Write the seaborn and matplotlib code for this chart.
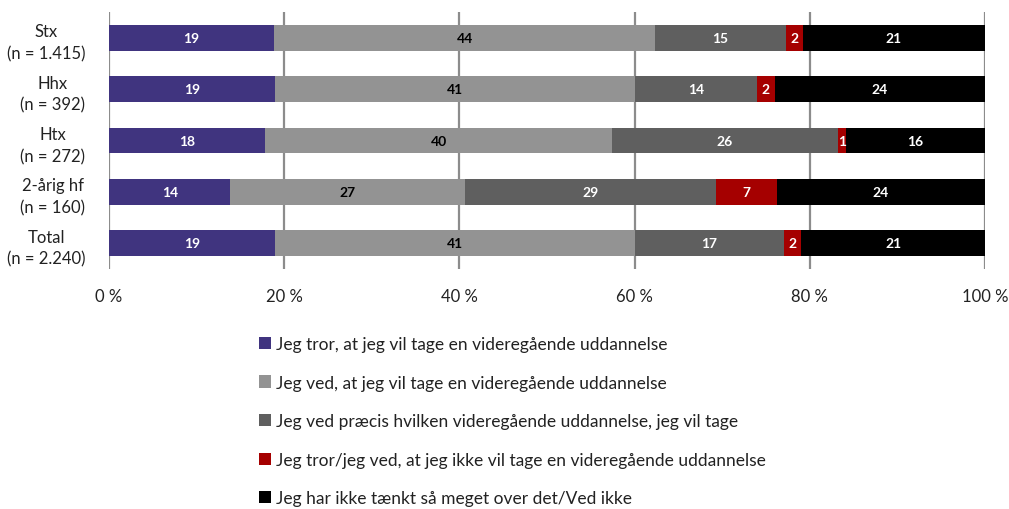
import matplotlib
matplotlib.use("Agg")
import matplotlib.pyplot as plt
import seaborn as sns
import pandas as pd
import numpy as np
from matplotlib.patches import Patch

categories = ["Stx\n(n = 1.415)", "Hhx\n(n = 392)", "Htx\n(n = 272)", "2-årig hf\n(n = 160)", "Total\n(n = 2.240)"]
series = [
    "Jeg tror, at jeg vil tage en videregående uddannelse",
    "Jeg ved, at jeg vil tage en videregående uddannelse",
    "Jeg ved præcis hvilken videregående uddannelse, jeg vil tage",
    "Jeg tror/jeg ved, at jeg ikke vil tage en videregående uddannelse",
    "Jeg har ikke tænkt så meget over det/Ved ikke",
]
s1 = [19, 19, 18, 14, 19]
s2 = [44, 41, 40, 27, 41]
s3 = [15, 14, 26, 29, 17]
s4 = [2, 2, 1, 7, 2]
s5 = [21, 24, 16, 24, 21]
colors = ["#40347f", "#939393", "#5f5f5f", "#a50000", "#000000"]
text_colors = ["white", "black", "white", "white", "white"]
xticks = [0, 20, 40, 60, 80, 100]
xtick_labels = ["0 %", "20 %", "40 %", "60 %", "80 %", "100 %"]

sns.set_theme(style="white")
plt.rcParams["font.family"] = ["Lato", "DejaVu Sans"]

vals = np.array([s1, s2, s3, s4, s5], dtype=float)
shares = vals / vals.sum(axis=0) * 100
cum = np.cumsum(shares, axis=0)

fig = plt.figure(figsize=(10.09, 5.10), dpi=100)
ax = fig.add_axes([109 / 1009, 1 - 270 / 510, (985 - 109) / 1009, (270 - 13) / 510])

# draw cumulative bars from the back so each segment shows
for i in range(len(series) - 1, -1, -1):
    df = pd.DataFrame({"cat": categories, "val": cum[i]})
    sns.barplot(data=df, x="val", y="cat", orient="h", color=colors[i],
                saturation=1, width=0.5, ax=ax, edgecolor="none", linewidth=0, zorder=3)

for i in range(len(series)):
    for j in range(len(categories)):
        center = cum[i, j] - shares[i, j] / 2
        ax.text(center, j, f"{int(vals[i, j])}", ha="center", va="center",
                color=text_colors[i], fontsize=10, fontweight="bold", zorder=5)

ax.set_xlim(0, 100)
ax.set_ylim(len(categories) - 0.5, -0.5)
ax.set_xticks(xticks)
ax.set_xticklabels(xtick_labels, fontsize=12, color="#222222")
ax.set_xlabel("")
ax.set_ylabel("")
ax.tick_params(axis="y", labelsize=12, length=0, pad=17, labelcolor="#222222")
ax.tick_params(axis="x", length=0, pad=14)
for lbl in ax.get_yticklabels():
    lbl.set_multialignment("center")
    lbl.set_linespacing(1.45)
ax.xaxis.grid(True, color="#8c8c8c", linewidth=1.6, zorder=0)
ax.set_axisbelow(True)
for sp in ax.spines.values():
    sp.set_visible(False)

handles = [Patch(facecolor=c, edgecolor="none") for c in colors]
fig.legend(handles, series, loc="upper left", bbox_to_anchor=(259 / 1009, 1 - 337 / 510),
           frameon=False, fontsize=12.5, labelspacing=1.3, handlelength=0.7, handleheight=0.7,
           handletextpad=0.3, borderpad=0, borderaxespad=0, labelcolor="#222222")

fig.savefig("out.png", dpi=100)
